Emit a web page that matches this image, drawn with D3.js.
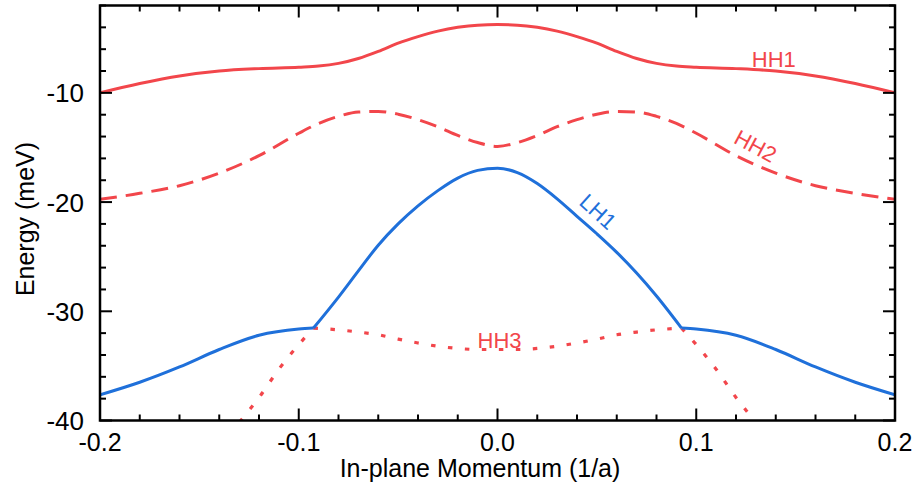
<!DOCTYPE html>
<html>
<head>
<meta charset="utf-8">
<script src="https://cdn.jsdelivr.net/npm/d3@7"></script>
<style>
  html, body { margin: 0; padding: 0; background: #fff; }
  svg { display: block; font-family: "Liberation Sans", Arial, sans-serif; }
</style>
</head>
<body>
<svg id="chart" width="917" height="492"></svg>
<script>
// ---------------- data ----------------
const momentum = [-0.2, -0.18, -0.16, -0.14, -0.12, -0.10, -0.09, -0.08, -0.07, -0.06, -0.05, -0.04, -0.03, -0.02, -0.01, 0,
                  0.01, 0.02, 0.03, 0.04, 0.05, 0.06, 0.07, 0.08, 0.09, 0.10, 0.12, 0.14, 0.16, 0.18, 0.2];
const hh1 = [-10.0, -9.15, -8.45, -8.0, -7.78, -7.65, -7.55, -7.3, -6.85, -6.2, -5.45, -4.85, -4.35, -4.0, -3.8, -3.75,
             -3.8, -4.0, -4.35, -4.85, -5.45, -6.2, -6.85, -7.3, -7.55, -7.65, -7.78, -8.0, -8.45, -9.15, -10.0];
const hh2 = [-19.75, -19.2, -18.5, -17.35, -15.75, -13.7, -12.8, -12.15, -11.75, -11.7, -11.95, -12.45, -13.1, -13.9, -14.55, -14.9,
             -14.55, -13.9, -13.1, -12.45, -11.95, -11.7, -11.75, -12.15, -12.8, -13.7, -15.75, -17.35, -18.5, -19.2, -19.75];

const lh1Momentum = [-0.2, -0.18, -0.16, -0.14, -0.12, -0.10, -0.0926, -0.08, -0.07, -0.06, -0.05, -0.04, -0.03, -0.02, -0.01, 0,
                     0.01, 0.02, 0.03, 0.04, 0.05, 0.06, 0.07, 0.08, 0.0926, 0.10, 0.12, 0.14, 0.16, 0.18, 0.2];
const lh1 = [-37.65, -36.5, -35.1, -33.5, -32.2, -31.63, -31.54, -28.7, -26.3, -23.95, -22.0, -20.35, -18.95, -17.8, -17.1, -16.9,
             -17.3, -18.3, -19.7, -21.3, -22.9, -24.6, -26.5, -28.6, -31.54, -31.63, -32.2, -33.5, -35.1, -36.5, -37.65];

const hh3Momentum = [-0.135, -0.13, -0.12, -0.11, -0.10, -0.0926, -0.08, -0.07, -0.06, -0.05, -0.04, -0.03, -0.02, -0.01, 0,
                     0.01, 0.02, 0.03, 0.04, 0.05, 0.06, 0.07, 0.08, 0.0926, 0.10, 0.11, 0.12, 0.13, 0.135];
const hh3 = [-41.4, -40.2, -37.9, -35.3, -33.05, -31.54, -31.7, -31.9, -32.15, -32.55, -32.9, -33.2, -33.4, -33.5, -33.5,
             -33.5, -33.4, -33.2, -32.9, -32.55, -32.15, -31.9, -31.7, -31.54, -33.05, -35.3, -37.9, -40.2, -41.4];
const kinkMomentum = 0.0926;

const xTicks = [-0.2, -0.1, 0.0, 0.1, 0.2];
const xTickLabels = ["-0.2", "-0.1", "0.0", "0.1", "0.2"];
const yTicks = [-40, -30, -20, -10];
const yTickLabels = ["-40", "-30", "-20", "-10"];
const xMinorStep = 0.02;
const yMinorStep = 2;

const bandLabels = [
  { text: "HH1", k: 0.139, e: -7.6, angle: 0, color: "red" },
  { text: "HH2", k: 0.128, e: -15.5, angle: 28, color: "red" },
  { text: "LH1", k: 0.048, e: -21.4, angle: 42, color: "blue" },
  { text: "HH3", k: 0.001, e: -33.35, angle: 0, color: "red" }
];

// ---------------- layout ----------------
const RED = "#f2464b";
const BLUE = "#1f70da";
const svg = d3.select("#chart");
const L = 100, R = 895, T = 5.5, B = 420.5;

const x = d3.scaleLinear().domain([-0.2, 0.2]).range([L, R]);
const y = d3.scaleLinear().domain([-40, -2]).range([B, T]);

svg.append("defs").append("clipPath").attr("id", "plotclip")
  .append("rect").attr("x", L).attr("y", T).attr("width", R - L).attr("height", B - T);

const g = svg.append("g").attr("clip-path", "url(#plotclip)");

const smooth = d3.line().x(d => x(d[0])).y(d => y(d[1])).curve(d3.curveMonotoneX);

function pairs(ks, es) { return ks.map((k, i) => [k, es[i]]); }

// split a series into pieces at the kink points (|k| == kink)
function splitAtKinks(pts) {
  const segs = [];
  let cur = [];
  pts.forEach(p => {
    cur.push(p);
    if (Math.abs(Math.abs(p[0]) - kinkMomentum) < 1e-9) {
      segs.push(cur);
      cur = [p];
    }
  });
  if (cur.length > 1) segs.push(cur);
  return segs;
}

// HH1 solid
g.append("path").attr("d", smooth(pairs(momentum, hh1)))
  .attr("fill", "none").attr("stroke", RED).attr("stroke-width", 3);
// HH2 dashed
g.append("path").attr("d", smooth(pairs(momentum, hh2)))
  .attr("fill", "none").attr("stroke", RED).attr("stroke-width", 3)
  .attr("stroke-dasharray", "17,9");
// HH3 dotted
splitAtKinks(pairs(hh3Momentum, hh3)).forEach(seg => {
  g.append("path").attr("d", smooth(seg))
    .attr("fill", "none").attr("stroke", RED).attr("stroke-width", 3.2)
    .attr("stroke-dasharray", "4.5,12.5");
});
// LH1 solid blue
splitAtKinks(pairs(lh1Momentum, lh1)).forEach(seg => {
  g.append("path").attr("d", smooth(seg))
    .attr("fill", "none").attr("stroke", BLUE).attr("stroke-width", 3)
    .attr("stroke-linejoin", "round");
});

// band labels
bandLabels.forEach(b => {
  svg.append("text")
    .attr("transform", `translate(${x(b.k)},${y(b.e)}) rotate(${b.angle})`)
    .attr("text-anchor", "middle")
    .attr("font-size", 22)
    .attr("fill", b.color === "red" ? RED : BLUE)
    .text(b.text);
});

// ---------------- axes ----------------
const axesG = svg.append("g");
const tickColor = "#000";
const xMinor = d3.range(-0.2, 0.2 + 1e-9, xMinorStep);
const yMinor = d3.range(-40, -2 + 1e-9, yMinorStep);

function isMajorX(v) { return xTicks.some(t => Math.abs(t - v) < 1e-9); }
function isMajorY(v) { return yTicks.some(t => Math.abs(t - v) < 1e-9); }

xMinor.forEach(v => {
  const len = isMajorX(v) ? 12 : 6;
  const px = x(v);
  axesG.append("line").attr("x1", px).attr("x2", px).attr("y1", B).attr("y2", B - len)
    .attr("stroke", tickColor).attr("stroke-width", 2);
  axesG.append("line").attr("x1", px).attr("x2", px).attr("y1", T).attr("y2", T + len)
    .attr("stroke", tickColor).attr("stroke-width", 2);
});
yMinor.forEach(v => {
  const len = isMajorY(v) ? 12 : 6;
  const py = y(v);
  axesG.append("line").attr("x1", L).attr("x2", L + len).attr("y1", py).attr("y2", py)
    .attr("stroke", tickColor).attr("stroke-width", 2);
  axesG.append("line").attr("x1", R).attr("x2", R - len).attr("y1", py).attr("y2", py)
    .attr("stroke", tickColor).attr("stroke-width", 2);
});

axesG.append("rect").attr("x", L).attr("y", T).attr("width", R - L).attr("height", B - T)
  .attr("fill", "none").attr("stroke", "#000").attr("stroke-width", 2.5);

xTicks.forEach((v, i) => {
  axesG.append("text").attr("x", x(v)).attr("y", 451)
    .attr("text-anchor", "middle").attr("font-size", 25).attr("fill", "#000")
    .text(xTickLabels[i]);
});
yTicks.forEach((v, i) => {
  axesG.append("text").attr("x", 84).attr("y", y(v) + 9.5)
    .attr("text-anchor", "end").attr("font-size", 26).attr("fill", "#000")
    .text(yTickLabels[i]);
});

svg.append("text").attr("x", 480).attr("y", 477)
  .attr("text-anchor", "middle").attr("font-size", 25).attr("fill", "#000")
  .text("In-plane Momentum (1/a)");
svg.append("text").attr("transform", "translate(34,219) rotate(-90)")
  .attr("text-anchor", "middle").attr("font-size", 25).attr("fill", "#000")
  .text("Energy (meV)");
</script>
</body>
</html>
